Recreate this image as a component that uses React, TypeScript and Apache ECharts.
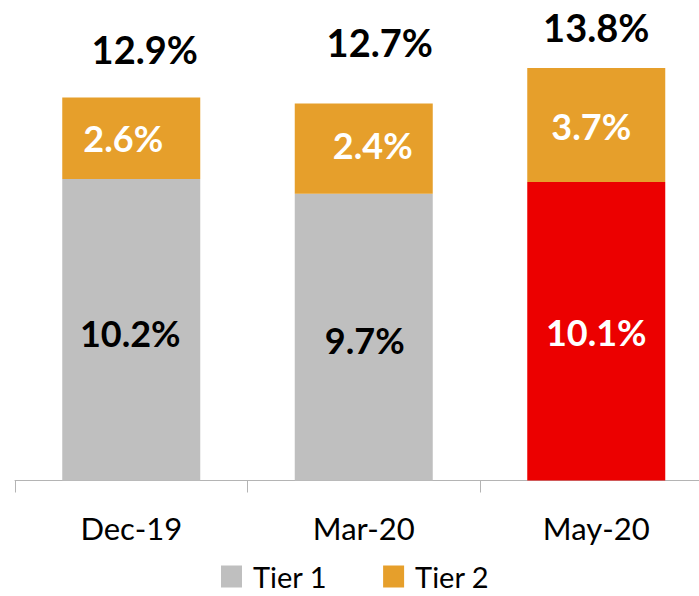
import React, { useEffect, useRef } from "react";
import * as echarts from "echarts";

const categories = ["Dec-19", "Mar-20", "May-20"];
const seriesNames = ["Tier 1", "Tier 2"];
// bar heights
const tier1 = [10.2, 9.7, 10.1];
const tier2 = [2.76, 3.06, 3.86];
// label texts as printed on the chart
const tier1Labels = ["10.2%", "9.7%", "10.1%"];
const tier2Labels = ["2.6%", "2.4%", "3.7%"];
const totalLabels = ["12.9%", "12.7%", "13.8%"];

const GRAY = "#bfbfbf";
const ORANGE = "#e69f2b";
const RED = "#ec0000";
const FONT = "Lato";

export default function App() {
  const ref = useRef<HTMLDivElement>(null);
  useEffect(() => {
    if (!ref.current) return;
    const chart = echarts.init(ref.current, undefined, { renderer: "svg" });
    const totals = tier1.map((v, i) => v + tier2[i]);
    const tier1Offsets = [[-1, 3], [1, 3], [0, 1]];
    const tier2Offsets = [[-8, 0], [9, -4], [-5, 1]];
    const totalOffsets = [[13.5, -49], [16, -61], [0, -41]];
    const labelStyle = { fontFamily: FONT, fontWeight: "bold" as const, fontSize: 36 };
    chart.setOption({
      animation: false,
      grid: { left: 15, width: 697.5, top: 7.7, bottom: 115.5, containLabel: false, outerBoundsMode: "none" },
      legend: {
        data: seriesNames,
        left: 221,
        top: 562,
        padding: 0,
        icon: "rect",
        itemWidth: 21,
        itemHeight: 22,
        itemGap: 56,
        textStyle: { fontFamily: FONT, fontSize: 29, color: "#000", padding: [0, 0, 0, 6] },
      },
      xAxis: {
        type: "category",
        data: categories,
        axisLine: { lineStyle: { color: "#b4b4b4", width: 1 } },
        axisTick: { show: true, length: 12, lineStyle: { color: "#b4b4b4" } },
        axisLabel: { fontFamily: FONT, fontSize: 31, color: "#000", margin: 32 },
      },
      yAxis: { type: "value", min: 0, max: 16, show: false, splitLine: { show: false } },
      series: [
        {
          name: seriesNames[0],
          type: "bar",
          stack: "t",
          barWidth: 138,
          itemStyle: { color: GRAY },
          data: tier1.map((v, i) => ({
            value: v,
            itemStyle: i === 2 ? { color: RED } : undefined,
            label: { offset: tier1Offsets[i], color: i === 2 ? "#fff" : "#000" },
          })),
          label: {
            show: true,
            position: "inside",
            ...labelStyle,
            formatter: (p: any) => tier1Labels[p.dataIndex],
          },
        },
        {
          name: seriesNames[1],
          type: "bar",
          stack: "t",
          barWidth: 138,
          itemStyle: { color: ORANGE },
          data: tier2.map((v, i) => ({ value: v, label: { offset: tier2Offsets[i] } })),
          label: {
            show: true,
            position: "inside",
            color: "#fff",
            ...labelStyle,
            formatter: (p: any) => tier2Labels[p.dataIndex],
          },
        },
        {
          name: "Total",
          type: "scatter",
          symbolSize: 1,
          silent: true,
          itemStyle: { color: "rgba(0,0,0,0)", opacity: 1 },
          data: totals.map((v, i) => ({ value: v, label: { offset: totalOffsets[i] } })),
          label: {
            show: true,
            position: "inside",
            color: "#000",
            ...labelStyle,
            fontSize: 38,
            formatter: (p: any) => totalLabels[p.dataIndex],
          },
        },
      ],
    });
    return () => chart.dispose();
  }, []);
  return (
    <div
      ref={ref}
      style={{ position: "absolute", left: 0, top: 0, width: 699, height: 596 }}
    />
  );
}
